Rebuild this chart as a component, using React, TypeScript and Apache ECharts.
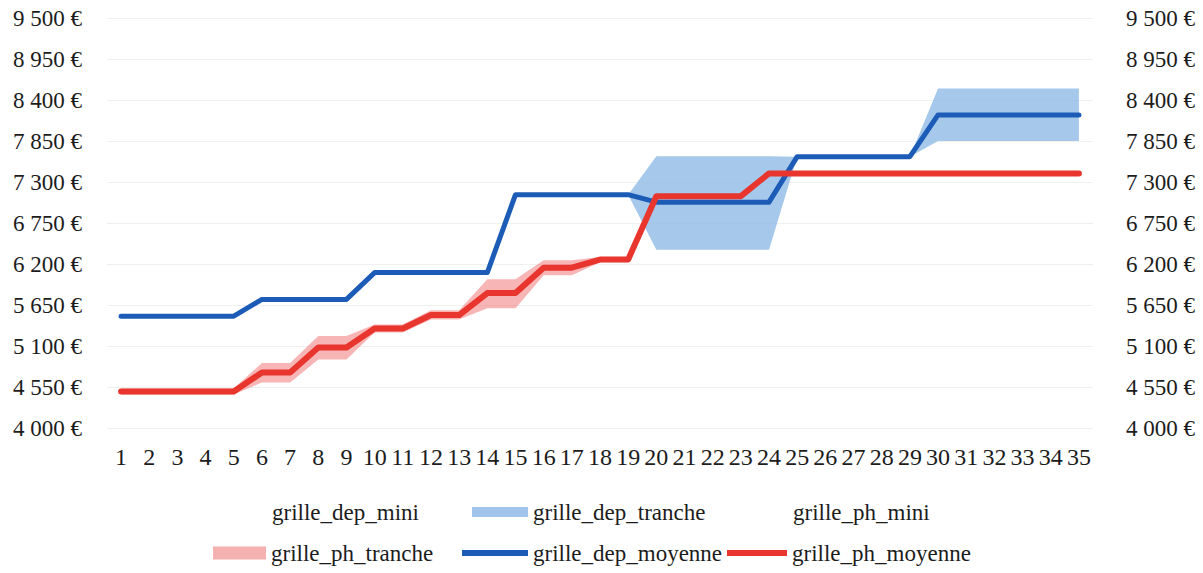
import React, { useEffect, useRef } from 'react';
import * as echarts from 'echarts';

const FONT = "'Liberation Serif', 'Times New Roman', serif";
const TEXT = '#1c1c1c';

const categories = [
  '1', '2', '3', '4', '5', '6', '7', '8', '9', '10', '11', '12', '13', '14', '15', '16', '17', '18',
  '19', '20', '21', '22', '23', '24', '25', '26', '27', '28', '29', '30', '31', '32', '33', '34', '35',
];

const yTicks = [4000, 4550, 5100, 5650, 6200, 6750, 7300, 7850, 8400, 8950, 9500];

const grilleDepMoyenne = [
  5500, 5500, 5500, 5500, 5500, 5725, 5725, 5725, 5725, 6085, 6085, 6085, 6085, 6085,
  7130, 7130, 7130, 7130, 7130, 7030, 7030, 7030, 7030, 7030, 7640, 7640, 7640, 7640, 7640,
  8200, 8200, 8200, 8200, 8200, 8200,
];
const grilleDepMini = [
  5500, 5500, 5500, 5500, 5500, 5725, 5725, 5725, 5725, 6085, 6085, 6085, 6085, 6085,
  7130, 7130, 7130, 7130, 7130, 6390, 6390, 6390, 6390, 6390, 7640, 7640, 7640, 7640, 7640,
  7850, 7850, 7850, 7850, 7850, 7850,
];
const grilleDepTranche = [
  0, 0, 0, 0, 0, 0, 0, 0, 0, 0, 0, 0, 0, 0, 0, 0, 0, 0, 0,
  1255, 1255, 1255, 1255, 1255, 0, 0, 0, 0, 0, 705, 705, 705, 705, 705, 705,
];
const grillePhMoyenne = [
  4490, 4490, 4490, 4490, 4490, 4745, 4745, 5080, 5080, 5335, 5335, 5515, 5515, 5810, 5810,
  6150, 6150, 6260, 6260, 7110, 7110, 7110, 7110, 7415, 7415, 7415, 7415, 7415, 7415, 7415,
  7415, 7415, 7415, 7415, 7415,
];
const grillePhMini = [
  4450, 4450, 4450, 4450, 4450, 4612, 4612, 4920, 4920, 5280, 5280, 5455, 5455, 5605, 5605,
  6050, 6050, 6225, 6225, 7110, 7110, 7110, 7110, 7415, 7415, 7415, 7415, 7415, 7415, 7415,
  7415, 7415, 7415, 7415, 7415,
];
const grillePhTranche = [
  80, 80, 80, 80, 80, 260, 260, 315, 315, 110, 110, 125, 125, 390, 390, 200, 200, 70, 70,
  0, 0, 0, 0, 0, 0, 0, 0, 0, 0, 0, 0, 0, 0, 0, 0,
];

const BLUE = '#1c5cb6';
const RED = '#e8352d';
const BLUE_BAND = 'rgba(140, 184, 230, 0.78)';
const RED_BAND = 'rgba(240, 120, 120, 0.55)';
const NONE = 'rgba(0,0,0,0)';

const fmt = (v: number) => {
  const t = Math.floor(v / 1000);
  const r = v % 1000;
  return `${t} ${String(r).padStart(3, '0')} €`;
};

const legendText = { fontFamily: FONT, fontSize: 23, color: TEXT, lineHeight: 26 };

function legendItem(name: string, left: number, top: number, w: number, h: number, color: string) {
  return {
    show: true,
    left,
    top,
    padding: 0,
    itemWidth: w,
    itemHeight: h,
    selectedMode: false,
    textStyle: legendText,
    data: [
      {
        name,
        icon: 'rect',
        itemStyle: { color, borderWidth: 0 },
        lineStyle: { width: 0, opacity: 0 },
      },
    ],
  };
}

export default function App() {
  const ref = useRef<HTMLDivElement>(null);
  useEffect(() => {
    const chart = echarts.init(ref.current!, null, { renderer: 'svg' });
    const axisY = (pos: 'left' | 'right', margin: number, split: boolean) => ({
      type: 'value',
      position: pos,
      min: yTicks[0],
      max: yTicks[yTicks.length - 1],
      interval: yTicks[1] - yTicks[0],
      axisLine: { show: false },
      axisTick: { show: false },
      splitLine: { show: split, lineStyle: { color: '#f0f0f0', width: 1 } },
      axisLabel: {
        formatter: fmt,
        fontFamily: FONT,
        fontSize: 23,
        color: TEXT,
        margin,
      },
    });
    chart.setOption({
      animation: false,
      backgroundColor: '#ffffff',
      grid: { left: 107, right: 110, top: 18, bottom: 145, containLabel: false },
      legend: [
        legendItem('grille_dep_mini', 212, 499, 55, 10, NONE),
        legendItem('grille_dep_tranche', 472, 499, 56, 10, 'rgba(150, 190, 232, 0.9)'),
        legendItem('grille_ph_mini', 733, 499, 55, 10, NONE),
        legendItem('grille_ph_tranche', 213, 540, 53, 13, 'rgba(242, 150, 150, 0.75)'),
        legendItem('grille_dep_moyenne', 462, 540, 66, 6, BLUE),
        legendItem('grille_ph_moyenne', 727, 540, 60, 6, RED),
      ],
      xAxis: {
        type: 'category',
        data: categories,
        boundaryGap: true,
        axisLine: { show: false },
        axisTick: { show: false },
        axisLabel: { interval: 0, fontFamily: FONT, fontSize: 24, color: TEXT, margin: 17 },
      },
      yAxis: [axisY('left', 25, true), axisY('right', 33, false)],
      series: [
        {
          name: 'grille_dep_mini',
          type: 'line',
          stack: 'dep',
          data: grilleDepMini,
          symbol: 'none',
          itemStyle: { color: NONE },
          lineStyle: { width: 0, opacity: 0 },
        },
        {
          name: 'grille_dep_tranche',
          type: 'line',
          stack: 'dep',
          data: grilleDepTranche,
          symbol: 'none',
          itemStyle: { color: BLUE_BAND },
          lineStyle: { width: 0, opacity: 0 },
          areaStyle: { color: BLUE_BAND, opacity: 1 },
        },
        {
          name: 'grille_ph_mini',
          type: 'line',
          stack: 'ph',
          data: grillePhMini,
          symbol: 'none',
          itemStyle: { color: NONE },
          lineStyle: { width: 0, opacity: 0 },
        },
        {
          name: 'grille_ph_tranche',
          type: 'line',
          stack: 'ph',
          data: grillePhTranche,
          symbol: 'none',
          itemStyle: { color: RED_BAND },
          lineStyle: { width: 0, opacity: 0 },
          areaStyle: { color: RED_BAND, opacity: 1 },
        },
        {
          name: 'grille_dep_moyenne',
          type: 'line',
          data: grilleDepMoyenne,
          symbol: 'none',
          itemStyle: { color: BLUE },
          lineStyle: { width: 5, color: BLUE, join: 'round', cap: 'round' },
        },
        {
          name: 'grille_ph_moyenne',
          type: 'line',
          data: grillePhMoyenne,
          symbol: 'none',
          itemStyle: { color: RED },
          lineStyle: { width: 6, color: RED, join: 'round', cap: 'round' },
        },
      ],
    });
    return () => chart.dispose();
  }, []);
  return (
    <div
      ref={ref}
      style={{ position: 'absolute', left: 0, top: 0, width: 1203, height: 573, background: '#fff' }}
    />
  );
}
